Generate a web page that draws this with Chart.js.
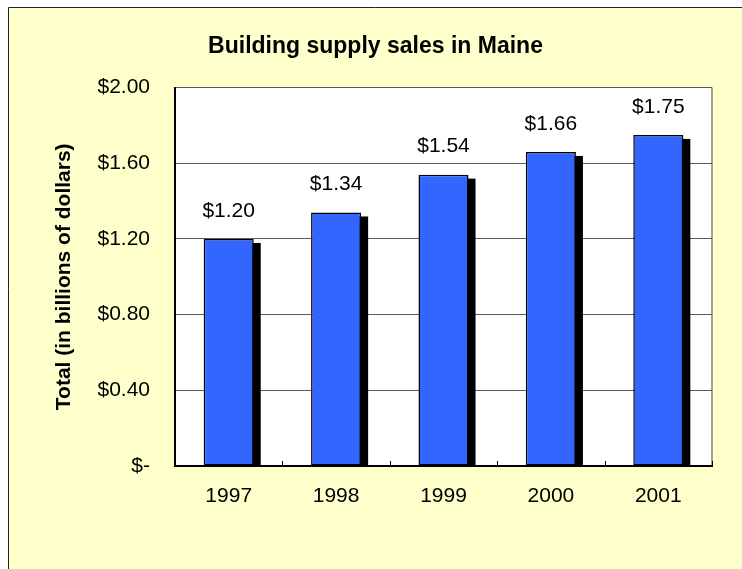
<!DOCTYPE html>
<html>
<head>
<meta charset="utf-8">
<script src="https://cdn.jsdelivr.net/npm/chart.js@4"></script>
<style>
  html, body { margin: 0; padding: 0; background: #ffffff; }
  #wrap { position: absolute; left: 0; top: 0; width: 742px; height: 569px; }
</style>
</head>
<body>
<div id="wrap"><canvas id="c" width="742" height="569"></canvas></div>
<script>
const categories = ['1997', '1998', '1999', '2000', '2001'];
const sales = [1.20, 1.34, 1.54, 1.66, 1.75];
const yTicks = [0, 0.40, 0.80, 1.20, 1.60, 2.00];

const FONT = '"Liberation Sans", Arial, Helvetica, sans-serif';

const fmt = v => (Math.abs(v) < 1e-9 ? '$-' : '$' + v.toFixed(2));

const framePlugin = {
  id: 'frame',
  beforeDraw(chart) {
    const ctx = chart.ctx, a = chart.chartArea;
    ctx.save();
    ctx.fillStyle = '#ffffff';
    ctx.fillRect(0, 0, chart.width, chart.height);
    ctx.fillStyle = '#FFFFCC';
    ctx.fillRect(8, 7, chart.width - 8, chart.height - 7);
    ctx.strokeStyle = '#222222';
    ctx.lineWidth = 1;
    ctx.beginPath();
    ctx.moveTo(8.5, chart.height);
    ctx.lineTo(8.5, 7.5);
    ctx.lineTo(chart.width, 7.5);
    ctx.stroke();
    // plot area
    ctx.fillStyle = '#ffffff';
    ctx.fillRect(a.left, a.top, a.right - a.left, a.bottom - a.top);
    ctx.strokeStyle = '#808080';
    ctx.lineWidth = 1.5;
    ctx.beginPath();
    ctx.moveTo(a.right, a.top);
    ctx.lineTo(a.right, a.bottom);
    ctx.stroke();
    ctx.restore();
  },
  beforeDatasetsDraw(chart) {
    // drop shadows behind each bar, taken from the bar elements' geometry
    const ctx = chart.ctx, a = chart.chartArea;
    const meta = chart.getDatasetMeta(0);
    ctx.save();
    ctx.beginPath();
    ctx.rect(a.left, a.top, a.right - a.left, a.bottom - a.top);
    ctx.clip();
    ctx.fillStyle = '#000000';
    meta.data.forEach(bar => {
      const p = bar.getProps(['x', 'y', 'base', 'width'], true);
      ctx.fillRect(p.x - p.width / 2 + 7, p.y + 4, p.width, p.base - p.y);
    });
    ctx.restore();
  },
  afterDatasetsDraw(chart) {
    const ctx = chart.ctx;
    const meta = chart.getDatasetMeta(0);
    const data = chart.data.datasets[0].data;
    ctx.save();
    ctx.fillStyle = '#000000';
    ctx.font = '21px ' + FONT;
    ctx.textAlign = 'center';
    ctx.textBaseline = 'middle';
    meta.data.forEach((bar, i) => {
      ctx.fillText(fmt(data[i]), bar.x, bar.y - 28);
    });
    // small category tick marks on the x axis, pointing inward
    const xs = chart.scales.x, a = chart.chartArea;
    ctx.strokeStyle = '#000000';
    ctx.lineWidth = 1;
    for (let i = 0; i <= categories.length; i++) {
      const x = Math.round(xs.getPixelForValue(i - 0.5)) + 0.5;
      ctx.beginPath();
      ctx.moveTo(x, a.bottom);
      ctx.lineTo(x, a.bottom - 5);
      ctx.stroke();
    }
    ctx.restore();
  }
};

new Chart(document.getElementById('c'), {
  type: 'bar',
  data: {
    labels: categories,
    datasets: [{
      data: sales,
      backgroundColor: '#3366FF',
      borderColor: '#000000',
      borderWidth: 1.5,
      borderSkipped: false,
      categoryPercentage: 1.0,
      barPercentage: 0.466,
      clip: 0
    }]
  },
  options: {
    responsive: false,
    animation: false,
    events: [],
    layout: { padding: { left: 9, right: 0, top: 8, bottom: 60 } },
    plugins: {
      legend: { display: false },
      tooltip: { enabled: false },
      title: {
        display: true,
        text: 'Building supply sales in Maine',
        color: '#000000',
        font: { family: FONT, size: 23, weight: 'bold' },
        padding: { top: 25, bottom: 27 }
      }
    },
    scales: {
      x: {
        afterFit(scale) { scale.height = 43; },
        grid: { display: false, drawTicks: false },
        border: { display: true, color: '#000000', width: 2 },
        ticks: { color: '#000000', font: { family: FONT, size: 21 }, padding: 18, maxRotation: 0 }
      },
      y: {
        min: 0,
        max: 2,
        afterBuildTicks(scale) { scale.ticks = yTicks.map(v => ({ value: v })); },
        afterFit(scale) { scale.width = 166; },
        grid: { color: '#5a5a5a', lineWidth: 1, drawTicks: false },
        border: { display: true, color: '#000000', width: 2 },
        ticks: {
          color: '#000000',
          font: { family: FONT, size: 21 },
          padding: 25,
          callback: v => fmt(v)
        },
        title: {
          display: true,
          text: 'Total (in billions of dollars)',
          color: '#000000',
          font: { family: FONT, size: 21, weight: 'bold' },
          padding: { top: 43, bottom: 0 }
        }
      },
      yR: {
        position: 'right',
        display: true,
        grid: { display: false, drawTicks: false },
        border: { display: false },
        ticks: { display: false },
        afterFit(scale) { scale.width = 30; }
      }
    }
  },
  plugins: [framePlugin]
});
</script>
</body>
</html>
